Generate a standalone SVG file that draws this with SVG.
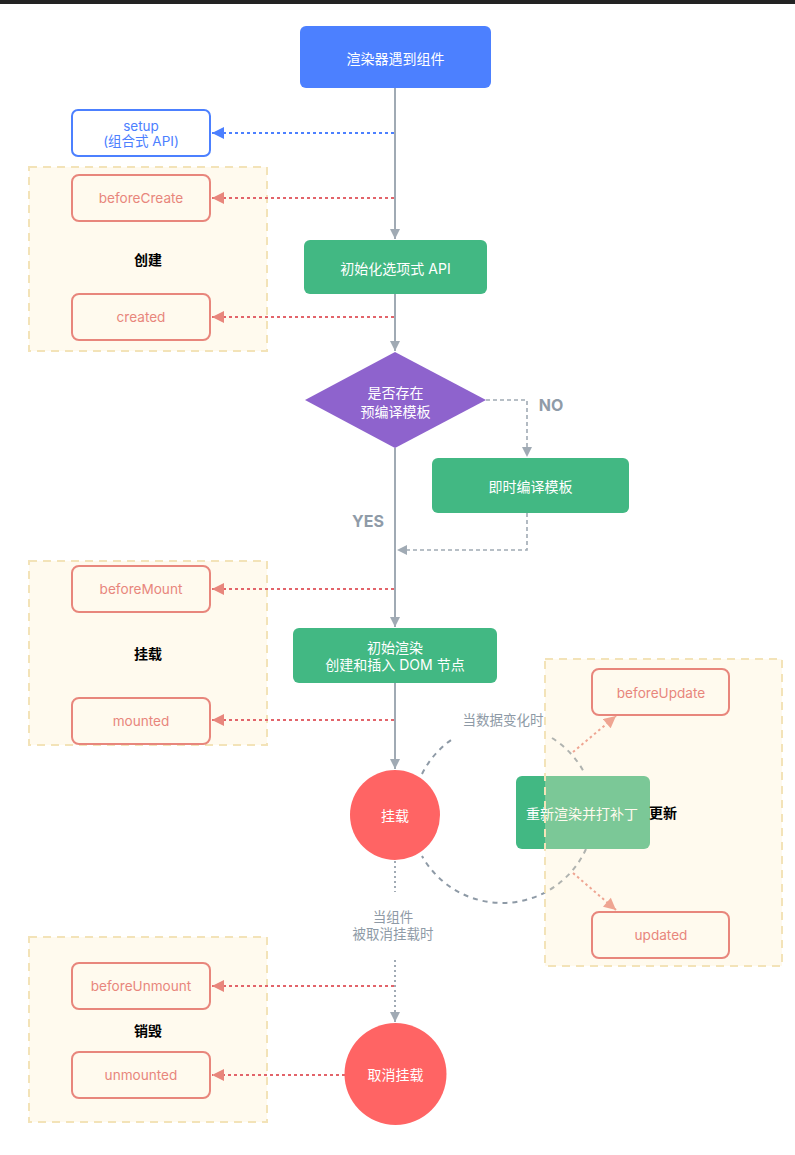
<svg xmlns="http://www.w3.org/2000/svg" width="795" height="1155" viewBox="0 0 795 1155">
<style>
text{font-family:Inter,"Noto Sans CJK SC",sans-serif;dominant-baseline:central;text-anchor:middle}
.wt{fill:#fff;font-size:14px}
.hook{fill:none;stroke:#e8867c;stroke-width:2}
.ht{fill:#e8867c;font-size:13.6px}
.cluster{fill:#ffeec6;fill-opacity:0.3;stroke:#f3e3b8;stroke-width:2;stroke-dasharray:8 6}
.lbl{fill:#000;font-size:14px;font-weight:bold}
.main{stroke:#a0aab4;stroke-width:2;fill:none}
.gdash{stroke:#a0aab4;stroke-width:1.6;stroke-dasharray:4 3;fill:none}
.gdot{stroke:#a0aab4;stroke-width:2;stroke-dasharray:2 3;fill:none}
.red{stroke:#e2646a;stroke-width:2;stroke-dasharray:3 3;fill:none}
.pink{stroke:#e8867c;stroke-width:2;stroke-dasharray:2.5 3;fill:none}
.blue{stroke:#4c80ff;stroke-width:2;stroke-dasharray:3 3;fill:none}
.arc{stroke:#8e9aa6;stroke-width:2;stroke-dasharray:5 5;fill:none}
.gt{fill:#8e9aa6;font-size:13.5px}
.yn{fill:#8f9ba8;font-size:16px;font-weight:bold}
</style>
<defs>
<marker id="ag" viewBox="0 0 10 10" refX="10" refY="5" markerWidth="10" markerHeight="11" markerUnits="userSpaceOnUse" orient="auto"><path d="M0,0L10,5L0,10z" fill="#a0aab4"/></marker>
<marker id="ar" viewBox="0 0 10 10" refX="10" refY="5" markerWidth="13" markerHeight="12" markerUnits="userSpaceOnUse" orient="auto"><path d="M0,0L10,5L0,10z" fill="#e8867c"/></marker>
<marker id="ab" viewBox="0 0 10 10" refX="10" refY="5" markerWidth="13" markerHeight="12" markerUnits="userSpaceOnUse" orient="auto"><path d="M0,0L10,5L0,10z" fill="#4c80ff"/></marker>
</defs>
<rect x="0" y="0" width="795" height="4" fill="#232323"/>

<g id="cluster-create"><rect class="cluster" x="29" y="167" width="238" height="184"/><text class="lbl" x="148" y="259">创建</text></g>
<g id="cluster-mount"><rect class="cluster" x="29" y="561" width="238" height="184"/><text class="lbl" x="148" y="653">挂载</text></g>
<g id="cluster-unmount"><rect class="cluster" x="29" y="937" width="238" height="185"/><text class="lbl" x="148" y="1030">销毁</text></g>

<g id="connectors">
<path class="main" d="M395,88V239" marker-end="url(#ag)"/>
<path class="main" d="M395,294V351" marker-end="url(#ag)"/>
<path class="main" d="M395,448V627" marker-end="url(#ag)"/>
<path class="main" d="M395,683V769" marker-end="url(#ag)"/>
<path class="gdot" d="M395,861V892"/>
<path class="gdot" d="M395,960V1022" marker-end="url(#ag)"/>
<path class="gdash" d="M486,400H527V457" marker-end="url(#ag)"/>
<path class="gdash" d="M527,513V550H397" marker-end="url(#ag)"/>
<path class="blue" d="M394,133H212" marker-end="url(#ab)"/>
<path class="red" d="M394,198H212" marker-end="url(#ar)"/>
<path class="red" d="M394,317H212" marker-end="url(#ar)"/>
<path class="red" d="M394,589H212" marker-end="url(#ar)"/>
<path class="red" d="M394,720H212" marker-end="url(#ar)"/>
<path class="red" d="M394,986H212" marker-end="url(#ar)"/>
<path class="red" d="M345,1075H212" marker-end="url(#ar)"/>
<path class="arc" d="M422,774A92,92 0 0,1 454,738"/>
<path class="arc" d="M552,738A92,92 0 0,1 585,774"/>
<path class="arc" d="M586,849A92,92 0 0,1 422,856"/>
<path class="pink" d="M573,752L616,716" marker-end="url(#ar)"/>
<path class="pink" d="M573,873L616,910" marker-end="url(#ar)"/>
<text class="yn" x="551" y="405">NO</text>
<text class="yn" x="368" y="521">YES</text>
<text class="gt" x="503" y="720">当数据变化时</text>
<text class="gt" x="393" y="917">当组件</text>
<text class="gt" x="393" y="934">被取消挂载时</text>
</g>

<g id="n-renderer"><rect x="300" y="26" width="191" height="62" rx="6" fill="#4c80ff"/><text class="wt" x="395.5" y="58">渲染器遇到组件</text></g>
<g id="n-setup"><rect x="72" y="110" width="138" height="46" rx="6" fill="#fff" stroke="#4c80ff" stroke-width="2"/><text x="141" y="126" fill="#4c80ff" font-size="13.5">setup</text><text x="141" y="141" fill="#4c80ff" font-size="13.5">(组合式 API)</text></g>
<g id="n-beforeCreate"><rect class="hook" x="72" y="175" width="138" height="46" rx="7"/><text class="ht" x="141" y="198">beforeCreate</text></g>
<g id="n-created"><rect class="hook" x="72" y="294" width="138" height="46" rx="7"/><text class="ht" x="141" y="317">created</text></g>
<g id="n-init"><rect x="304" y="240" width="183" height="54" rx="6" fill="#42b883"/><text class="wt" x="395.5" y="268">初始化选项式 API</text></g>
<g id="n-decision"><path d="M395,352L486,400L395,448L305,400z" fill="#8e63cd"/><text class="wt" x="395.5" y="392">是否存在</text><text class="wt" x="395.5" y="411">预编译模板</text></g>
<g id="n-compile"><rect x="432" y="458" width="197" height="55" rx="6" fill="#42b883"/><text class="wt" x="530.5" y="486">即时编译模板</text></g>
<g id="n-beforeMount"><rect class="hook" x="72" y="566" width="138" height="46" rx="7"/><text class="ht" x="141" y="589">beforeMount</text></g>
<g id="n-mounted"><rect class="hook" x="72" y="698" width="138" height="46" rx="7"/><text class="ht" x="141" y="721">mounted</text></g>
<g id="n-render"><rect x="293" y="628" width="204" height="55" rx="6" fill="#42b883"/><text class="wt" x="395" y="647">初始渲染</text><text class="wt" x="395" y="664">创建和插入 DOM 节点</text></g>
<g id="n-mountedState"><circle cx="395" cy="815" r="45" fill="#ff6464"/><text class="wt" x="395" y="815">挂载</text></g>
<g id="n-patch"><rect x="516" y="776" width="134" height="73" rx="6" fill="#42b883"/><text class="wt" x="582" y="813" font-size="15">重新渲染并打补丁</text></g>
<g id="n-beforeUnmount"><rect class="hook" x="72" y="963" width="138" height="46" rx="7"/><text class="ht" x="141" y="986">beforeUnmount</text></g>
<g id="n-unmounted"><rect class="hook" x="72" y="1052" width="138" height="46" rx="7"/><text class="ht" x="141" y="1075">unmounted</text></g>
<g id="n-unmount"><circle cx="395.5" cy="1074" r="51" fill="#ff6464"/><text class="wt" x="395.5" y="1074">取消挂载</text></g>

<g id="cluster-update"><rect class="cluster" x="545" y="659" width="237" height="307"/><text class="lbl" x="663" y="812">更新</text></g>
<g id="n-beforeUpdate"><rect class="hook" x="592" y="669" width="137" height="46" rx="7"/><text class="ht" x="661" y="693">beforeUpdate</text></g>
<g id="n-updated"><rect class="hook" x="592" y="912" width="137" height="46" rx="7"/><text class="ht" x="661" y="935">updated</text></g>
</svg>
